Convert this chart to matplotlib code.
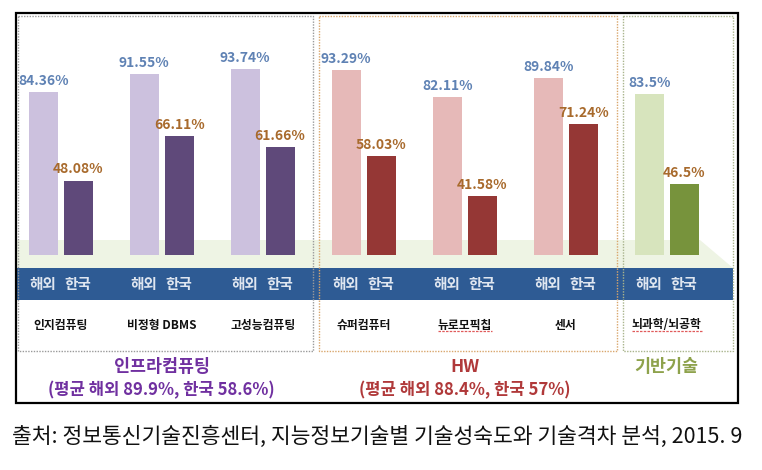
import matplotlib
matplotlib.use("Agg")
import matplotlib.pyplot as plt
from matplotlib.patches import Rectangle, Polygon
from matplotlib.transforms import blended_transform_factory

plt.rcParams['font.family'] = ['Noto Sans CJK KR', 'DejaVu Sans']

# data
categories = ['인지컴퓨팅', '비정형 DBMS', '고성능컴퓨팅', '슈퍼컴퓨터', '뉴로모픽칩', '센서', '뇌과학/뇌공학']
overseas = [84.36, 91.55, 93.74, 93.29, 82.11, 89.84, 83.5]
korea = [48.08, 66.11, 61.66, 58.03, 41.58, 71.24, 46.5]
overseas_labels = ['84.36%', '91.55%', '93.74%', '93.29%', '82.11%', '89.84%', '83.5%']
korea_labels = ['48.08%', '66.11%', '61.66%', '58.03%', '41.58%', '71.24%', '46.5%']
group_of = [0, 0, 0, 1, 1, 1, 2]
group_names = ['인프라컴퓨팅', 'HW', '기반기술']
group_avgs = ['(평균 해외 89.9%, 한국 58.6%)', '(평균 해외 88.4%, 한국 57%)', '']

# styles per group
light_cols = ['#ccc1de', '#e6b9b8', '#d7e4bd']
dark_cols = ['#5f497a', '#953735', '#77933c']
title_cols = ['#7030a0', '#b0393a', '#8ea24c']
box_cols = ['#9a9a9a', '#d9a66c', '#a9b48c']
box_x = [(18, 313), (319, 617), (623, 733)]

W, H = 762, 470
fig = plt.figure(figsize=(W / 100, H / 100), dpi=100)
fig.patch.set_facecolor('white')

# background / decoration axes in pixel units
deco = fig.add_axes([0, 0, 1, 1])
deco.set_xlim(0, W)
deco.set_ylim(H, 0)
deco.axis('off')

# light floor strip behind bars
deco.add_patch(Polygon([(17, 240), (700, 240), (733, 268), (17, 268)],
                       closed=True, facecolor='#eef4e4', edgecolor='none', zorder=1))
# blue band
deco.add_patch(Rectangle((16, 268), 717, 32, facecolor='#2e5b94', edgecolor='none', zorder=2))
# dotted group boxes
for (x0, x1), c in zip(box_x, box_cols):
    deco.add_patch(Rectangle((x0, 16), x1 - x0, 351 - 16, facecolor='none', edgecolor=c,
                             linestyle=(0, (1, 1)), linewidth=1.0, zorder=3))
# outer border
deco.add_patch(Rectangle((16, 13), 722, 390, facecolor='none', edgecolor='black',
                         linewidth=1.6, zorder=4))

# bar axes
left_px, right_px, top_px, bot_px = 17, 733, 15, 255
ax = fig.add_axes([left_px / W, (H - bot_px) / H, (right_px - left_px) / W, (bot_px - top_px) / H])
ax.patch.set_alpha(0)
ax.set_xlim((left_px - 60.7) / 101, (right_px - 60.7) / 101)
ax.set_ylim(17.6, 115.8)
ax.axis('off')

x = list(range(len(categories)))
bw = 0.287
off = 0.173
for i in x:
    g = group_of[i]
    ax.bar(i - off, overseas[i], bw, color=light_cols[g], zorder=2)
    ax.bar(i + off, korea[i], bw, color=dark_cols[g], zorder=2)
    ax.annotate(overseas_labels[i], (i - off, overseas[i]), xytext=(0, 3), textcoords='offset points',
                ha='center', va='bottom', fontsize=10, fontweight='bold', color='#5f82b4')
    ax.annotate(korea_labels[i], (i + off, korea[i]), xytext=(0, 3), textcoords='offset points',
                ha='center', va='bottom', fontsize=10, fontweight='bold', color='#a86a2c')

tr = blended_transform_factory(ax.transData, deco.transData)
cat_texts = []
for i in x:
    deco.text(i - off, 284, '해외', transform=tr, ha='center', va='center',
              fontsize=10.5, fontweight='bold', color='#dfe6f0', zorder=5)
    deco.text(i + off, 284, '한국', transform=tr, ha='center', va='center',
              fontsize=10.5, fontweight='bold', color='#dfe6f0', zorder=5)
    t = deco.text(i, 325, categories[i], transform=tr, ha='center', va='center',
                  fontsize=8.5, fontweight='bold', color='#111111', zorder=5)
    cat_texts.append(t)

for g, name in enumerate(group_names):
    idx = [i for i in x if group_of[i] == g]
    cx = sum(idx) / len(idx)
    deco.text(cx, 367, name, transform=tr, ha='center', va='center',
              fontsize=12.5, fontweight='bold', color=title_cols[g])
    if group_avgs[g]:
        deco.text(cx, 390, group_avgs[g], transform=tr, ha='center', va='center',
                  fontsize=12, fontweight='bold', color=title_cols[g])

# spell-check squiggles under two labels, as in the source image
fig.canvas.draw()
inv = deco.transData.inverted()
for i in (4, 6):
    bb = cat_texts[i].get_window_extent()
    (xa, ya), (xb, yb) = inv.transform([(bb.x0, bb.y0), (bb.x1, bb.y0)])
    deco.plot([xa, xb], [ya - 1, yb - 1], color='#e05a5a', linewidth=0.9,
              linestyle=(0, (2, 1)), zorder=5)

deco.text(12, 437, '출처: 정보통신기술진흥센터, 지능정보기술별 기술성숙도와 기술격차 분석, 2015. 9',
          ha='left', va='center', fontsize=15.5, color='#111111')

fig.savefig('out.png', dpi=100)
